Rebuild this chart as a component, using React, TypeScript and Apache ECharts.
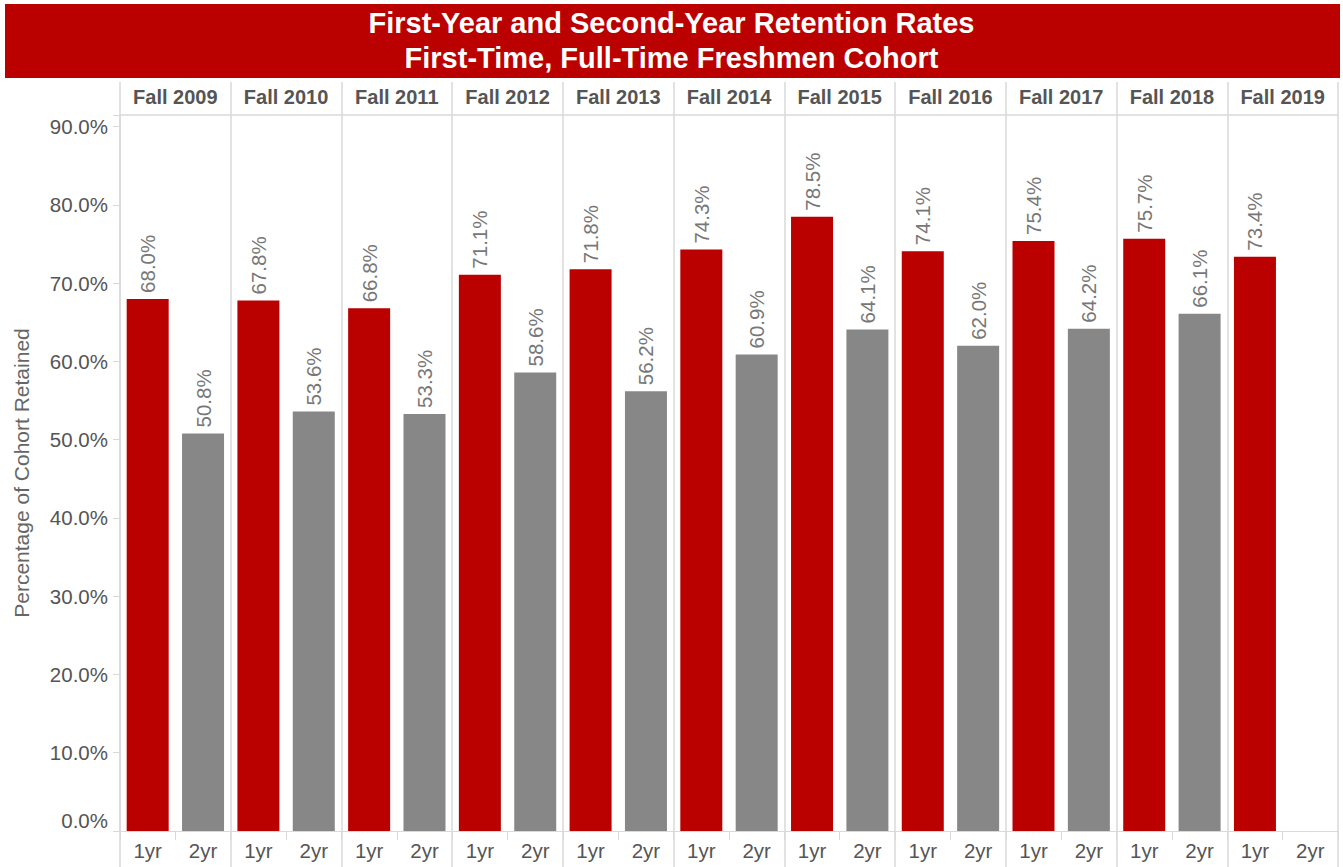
import React, { useEffect, useRef } from "react";
import * as echarts from "echarts";

const titleLines = ["First-Year and Second-Year Retention Rates", "First-Time, Full-Time Freshmen Cohort"];
const cohorts = ["Fall 2009", "Fall 2010", "Fall 2011", "Fall 2012", "Fall 2013", "Fall 2014", "Fall 2015", "Fall 2016", "Fall 2017", "Fall 2018", "Fall 2019"];
const measures = ["1yr", "2yr"];
const oneYear = [68.0, 67.8, 66.8, 71.1, 71.8, 74.3, 78.5, 74.1, 75.4, 75.7, 73.4];
const twoYear: (number | null)[] = [50.8, 53.6, 53.3, 58.6, 56.2, 60.9, 64.1, 62.0, 64.2, 66.1, null];
const yTicks = [0, 10, 20, 30, 40, 50, 60, 70, 80, 90];
const yAxisTitle = "Percentage of Cohort Retained";

const RED = "#BB0000";
const GRAY = "#878787";
const FONT = '"Liberation Sans", Arial, sans-serif';
const LINE = "#d9d9d9";

export default function App() {
  const ref = useRef<HTMLDivElement>(null);
  useEffect(() => {
    if (!ref.current) return;
    const chart = echarts.init(ref.current, null, { renderer: "svg" });
    const cats: string[] = [];
    const data: any[] = [];
    cohorts.forEach((c, i) => {
      cats.push(c + "|" + measures[0]);
      data.push({ value: oneYear[i], itemStyle: { color: RED } });
      cats.push(c + "|" + measures[1]);
      data.push(twoYear[i] == null ? { value: "-" } : { value: twoYear[i], itemStyle: { color: GRAY } });
    });
    chart.setOption({
      animation: false,
      textStyle: { fontFamily: FONT },
      title: {
        text: titleLines.join("\n"),
        left: "center",
        top: 5,
        padding: 0,
        textStyle: { color: "#fff", fontSize: 29, fontWeight: "bold", lineHeight: 35, fontFamily: FONT },
      },
      graphic: [
        { type: "rect", left: 5, top: 4, z: -1, shape: { width: 1335, height: 74 }, style: { fill: RED } },
      ],
      grid: { left: 120, right: 5, top: 115, bottom: 36, containLabel: false },
      xAxis: [
        {
          type: "category",
          gridIndex: 0,
          position: "bottom",
          data: cats,
          axisLine: { show: true, lineStyle: { color: LINE, width: 1 } },
          axisTick: { show: true, interval: 0, length: 9, lineStyle: { color: LINE } },
          axisLabel: {
            interval: 0,
            margin: 9,
            fontSize: 20.5,
            color: "#555",
            fontFamily: FONT,
            formatter: (v: string) => v.split("|")[1],
          },
          splitLine: { show: false },
        },
        {
          type: "category",
          gridIndex: 0,
          position: "top",
          data: cohorts,
          axisLine: { show: true, lineStyle: { color: LINE, width: 1.5 } },
          axisTick: { show: true, interval: 0, length: 33, lineStyle: { color: LINE, width: 1.5 } },
          axisLabel: { interval: 0, margin: 8, fontSize: 20, fontWeight: "bold", color: "#555", fontFamily: FONT },
          splitLine: { show: true, interval: 0, lineStyle: { color: LINE, width: 1.5 } },
        },
        {
          type: "category",
          gridIndex: 0,
          position: "bottom",
          data: cohorts,
          axisLine: { show: false },
          axisTick: { show: true, interval: 0, length: 36, lineStyle: { color: LINE, width: 1.5 } },
          axisLabel: { show: false },
          splitLine: { show: false },
        },
      ],
      yAxis: {
        type: "value",
        min: 0,
        max: 91.5,
        interval: 10,
        name: yAxisTitle,
        nameLocation: "middle",
        nameGap: 88,
        nameTextStyle: { fontSize: 21, color: "#666", fontFamily: FONT },
        axisLine: { show: true, lineStyle: { color: LINE, width: 1.5 } },
        axisTick: { show: true, length: 7, lineStyle: { color: LINE } },
        splitLine: { show: false },
        axisLabel: {
          margin: 12,
          fontSize: 20.5,
          color: "#555",
          fontFamily: FONT,
          verticalAlignMinLabel: "bottom",
          formatter: (v: number) => (yTicks.indexOf(Math.round(v * 10) / 10) >= 0 ? v.toFixed(1) + "%" : ""),
        },
      },
      series: [
        {
          type: "bar",
          xAxisIndex: 0,
          yAxisIndex: 0,
          data,
          barWidth: 42,
          label: {
            show: true,
            position: "top",
            rotate: 90,
            align: "left",
            verticalAlign: "middle",
            distance: 6,
            fontSize: 20.5,
            color: "#777",
            fontFamily: FONT,
            formatter: (p: any) => Number(p.value).toFixed(1) + "%",
          },
        },
      ],
    });
    return () => chart.dispose();
  }, []);
  return (
    <div
      ref={ref}
      style={{ position: "fixed", left: 0, top: 0, width: 1343, height: 867, background: "#fff" }}
    />
  );
}
